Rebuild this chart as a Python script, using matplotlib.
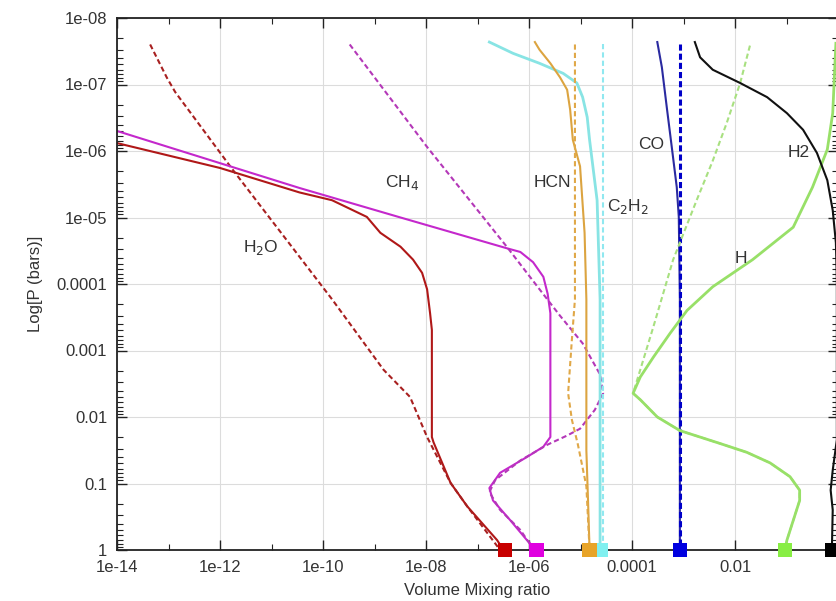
import matplotlib
matplotlib.use('Agg')
import matplotlib.pyplot as plt
from matplotlib.ticker import FixedLocator, LogLocator, NullFormatter

# mixing ratio profiles: (volume mixing ratio, pressure in bars)
h2o_x = [1e-14, 1e-12, 3.5e-11, 1.5e-10, 7.1e-10, 1.3e-9, 3.2e-9, 5.6e-9, 8.4e-9, 1.05e-8, 1.2e-8, 1.3e-8,
         1.3e-8, 1.4e-8, 3.0e-8, 6.3e-8, 2.4e-7, 3.2e-7]
h2o_p = [7.6e-7, 1.8e-6, 4.2e-6, 5.5e-6, 9.8e-6, 1.7e-5, 2.75e-5, 4.3e-5, 6.8e-5, 1.2e-4, 2.75e-4, 4.9e-4,
         0.02, 0.024, 0.098, 0.22, 0.71, 1.0]
h2o_eq_x = [4.4e-14, 9.3e-14, 1.35e-13, 1.8e-12, 3.5e-11, 1.5e-10, 1.5e-9, 4.9e-9, 1.05e-8, 3.0e-8, 6.3e-8, 2.75e-7]
h2o_eq_p = [2.5e-8, 7.9e-8, 1.3e-7, 1.95e-6, 3.9e-5, 1.7e-4, 1.95e-3, 5.0e-3, 0.02, 0.098, 0.22, 1.0]

ch4_x = [1e-14, 3.5e-11, 3.2e-9, 3.7e-7, 6.8e-7, 1.2e-6, 1.9e-6, 2.3e-6, 2.6e-6, 2.6e-6, 1.9e-6, 9.1e-7,
         2.75e-7, 1.7e-7, 2.0e-7, 4.3e-7, 9.1e-7, 1.4e-6]
ch4_p = [5.0e-7, 3.6e-6, 1.0e-5, 2.9e-5, 3.3e-5, 4.7e-5, 7.8e-5, 1.4e-4, 2.75e-4, 0.02, 0.028, 0.04,
         0.069, 0.117, 0.18, 0.355, 0.71, 1.0]
ch4_eq_x = [3.3e-10, 1.05e-8, 3.7e-7, 1.6e-6, 4.0e-6, 1.1e-5, 2.4e-5, 2.75e-5, 1.9e-5, 9.8e-6, 5.5e-6, 2.3e-6,
            6.8e-7, 2.2e-7, 1.7e-7, 2.75e-7, 6.8e-7, 1.25e-6]
ch4_eq_p = [2.5e-8, 8.7e-7, 2.75e-5, 1.2e-4, 3.0e-4, 7.8e-4, 2.3e-3, 4.4e-3, 7.8e-3, 0.015, 0.019, 0.026,
            0.045, 0.089, 0.135, 0.25, 0.5, 1.0]

hcn_x = [1.3e-6, 1.6e-6, 2.6e-6, 4.0e-6, 5.5e-6, 6.3e-6, 7.1e-6, 9.8e-6, 1.2e-5, 1.3e-5, 1.3e-5, 1.4e-5, 1.5e-5]
hcn_p = [2.3e-8, 3.0e-8, 4.8e-8, 7.8e-8, 1.2e-7, 2.4e-7, 6.8e-7, 1.7e-6, 1.7e-5, 1.7e-4, 0.032, 0.18, 1.0]
hcn_eq_x = [7.8e-6, 7.8e-6, 6.8e-6, 5.75e-6, 6.8e-6, 8.9e-6, 1.3e-5, 1.5e-5]
hcn_eq_p = [2.5e-8, 1.7e-4, 6.9e-4, 4.4e-3, 0.011, 0.026, 0.11, 1.0]

c2h2_x = [1.7e-7, 4.9e-7, 1.6e-6, 4.6e-6, 8.5e-6, 1.1e-5, 1.35e-5, 1.5e-5, 2.1e-5, 2.4e-5, 2.4e-5]
c2h2_p = [2.3e-8, 3.4e-8, 4.8e-8, 6.8e-8, 9.5e-8, 1.55e-7, 3.1e-7, 6.8e-7, 5.5e-6, 1.7e-4, 1.0]
c2h2_eq_x = [2.75e-5, 2.75e-5]
c2h2_eq_p = [2.5e-8, 1.0]

co_x = [3.1e-4, 3.8e-4, 4.8e-4, 6.0e-4, 7.4e-4, 8.1e-4, 8.5e-4, 8.5e-4]
co_p = [2.3e-8, 5.5e-8, 2.4e-7, 9.5e-7, 3.5e-6, 9.8e-6, 1.7e-4, 1.0]
co_eq_x = [8.5e-4, 8.5e-4]
co_eq_p = [2.5e-8, 1.0]

h_x = [0.91, 0.79, 0.62, 0.32, 0.135, 0.022, 3.7e-3, 1.17e-3, 5.5e-4, 2.6e-4, 1.45e-4, 1.05e-4, 1.45e-4,
       3.1e-4, 8.5e-4, 5.1e-3, 0.017, 0.048, 0.117, 0.18, 0.18, 0.102, 0.093]
h_p = [2.4e-8, 2.7e-7, 9.5e-7, 3.5e-6, 1.4e-5, 4.3e-5, 1.1e-4, 2.5e-4, 5.5e-4, 1.26e-3, 2.5e-3, 4.4e-3, 5.5e-3,
       0.01, 0.016, 0.025, 0.034, 0.049, 0.079, 0.126, 0.18, 0.71, 1.0]
h_eq_x = [0.0195, 0.0126, 6.9e-3, 3.7e-3, 1.8e-3, 6.3e-4, 2.6e-4, 1.05e-4, 1.45e-4, 3.1e-4, 8.5e-4, 5.1e-3,
          0.017, 0.048, 0.117, 0.18, 0.18, 0.102, 0.093]
h_eq_p = [2.6e-8, 9.5e-8, 3.8e-7, 1.4e-6, 5.5e-6, 4.3e-5, 4.4e-4, 4.4e-3, 5.5e-3, 0.01, 0.016, 0.025,
          0.034, 0.049, 0.079, 0.126, 0.18, 0.71, 1.0]

h2_x = [1.66e-3, 2.1e-3, 3.7e-3, 0.0126, 0.042, 0.102, 0.21, 0.39, 0.62, 0.79, 0.91, 0.95, 0.95, 0.79, 0.72,
        0.79, 0.76]
h2_p = [2.3e-8, 3.9e-8, 6.0e-8, 9.5e-8, 1.55e-7, 2.7e-7, 4.8e-7, 1.07e-6, 2.75e-6, 7.8e-6, 2.4e-5, 8.7e-5,
        0.022, 0.063, 0.126, 0.25, 1.0]

# lower boundary values at 1 bar
surface_x = [3.4e-7, 1.4e-6, 2.5e-5, 1.5e-5, 8.5e-4, 0.093, 0.76]
surface_colors = ['#c80000', '#e000e0', '#80f0f0', '#e8a428', '#0000e0', '#88ee44', '#000000']

x_ticks = [1e-14, 1e-12, 1e-10, 1e-8, 1e-6, 1e-4, 1e-2]
x_tick_labels = ['1e-14', '1e-12', '1e-10', '1e-08', '1e-06', '0.0001', '0.01']
y_ticks = [1e-8, 1e-7, 1e-6, 1e-5, 1e-4, 1e-3, 1e-2, 1e-1, 1]
y_tick_labels = ['1e-08', '1e-07', '1e-06', '1e-05', '0.0001', '0.001', '0.01', '0.1', '1']

plt.rcParams['font.family'] = ['Liberation Sans', 'DejaVu Sans']
text_color = '#333333'

fig = plt.figure(figsize=(8.36, 6.01), dpi=100)
ax = fig.add_axes([117 / 836, 1 - 550 / 601, (838 - 117) / 836, (550 - 18) / 601])

dash = (2.5, 1.5)
lw = 1.5

ax.plot(h2o_x, h2o_p, color='#b01818', lw=lw)
ax.plot(h2o_eq_x, h2o_eq_p, color='#a82020', lw=lw, dashes=dash)
ax.plot(ch4_x, ch4_p, color='#c428cc', lw=lw)
ax.plot(ch4_eq_x, ch4_eq_p, color='#b438b8', lw=lw, dashes=dash)
ax.plot(c2h2_x, c2h2_p, color='#88e4e4', lw=2.0)
ax.plot(c2h2_eq_x, c2h2_eq_p, color='#90e8f0', lw=lw, dashes=dash)
ax.plot(hcn_x, hcn_p, color='#dca440', lw=lw)
ax.plot(hcn_eq_x, hcn_eq_p, color='#e0a848', lw=lw, dashes=dash)
ax.plot(co_x, co_p, color='#2a2aa0', lw=lw)
ax.plot(co_eq_x, co_eq_p, color='#0000c8', lw=2.2, dashes=(2, 1))
ax.plot(h_eq_x, h_eq_p, color='#a8e080', lw=lw, dashes=dash)
ax.plot(h_x, h_p, color='#98e068', lw=2.0)
ax.plot(h2_x, h2_p, color='#111111', lw=lw)

ax.scatter(surface_x, [1] * len(surface_x), marker='s', s=110, c=surface_colors,
           zorder=5, clip_on=False, linewidths=0)

ax.set_xscale('log')
ax.set_yscale('log')
ax.set_xlim(1e-14, 1)
ax.set_ylim(1, 1e-8)

ax.xaxis.set_major_locator(FixedLocator(x_ticks))
ax.set_xticklabels(x_tick_labels)
ax.xaxis.set_minor_locator(FixedLocator([1e-13, 1e-11, 1e-9, 1e-7, 1e-5, 1e-3, 1e-1]))
ax.xaxis.set_minor_formatter(NullFormatter())
ax.yaxis.set_major_locator(FixedLocator(y_ticks))
ax.set_yticklabels(y_tick_labels)
ax.yaxis.set_minor_locator(LogLocator(base=10, subs=range(2, 10)))
ax.yaxis.set_minor_formatter(NullFormatter())

ax.tick_params(which='both', direction='in', top=True, right=True,
               colors='#222222', labelcolor=text_color, labelsize=12)
ax.tick_params(which='major', length=7, width=1.0)
ax.tick_params(which='minor', length=4, width=0.8)
ax.tick_params(axis='y', pad=7)
ax.tick_params(axis='x', pad=7)

ax.grid(True, which='major', color='#dcdcdc', lw=0.8)
ax.set_axisbelow(True)
for sp in ax.spines.values():
    sp.set_linewidth(1.3)
    sp.set_color('#222222')

ax.set_xlabel('Volume Mixing ratio', fontsize=12, color=text_color, labelpad=6)
ax.set_ylabel('Log[P (bars)]', fontsize=12, color=text_color, labelpad=10)

labels = [
    (r'H$_2$O', 6.2e-12, 2.8e-5),
    (r'CH$_4$', 3.5e-9, 3.0e-6),
    ('HCN', 2.8e-6, 3.0e-6),
    (r'C$_2$H$_2$', 8.3e-5, 6.9e-6),
    ('CO', 2.3e-4, 8.1e-7),
    ('H2', 0.17, 1.07e-6),
    ('H', 0.013, 4.1e-5),
]
for s, x, y in labels:
    ax.text(x, y, s, fontsize=12.5, color=text_color, ha='center', va='center')

fig.savefig('out.png', dpi=100)
